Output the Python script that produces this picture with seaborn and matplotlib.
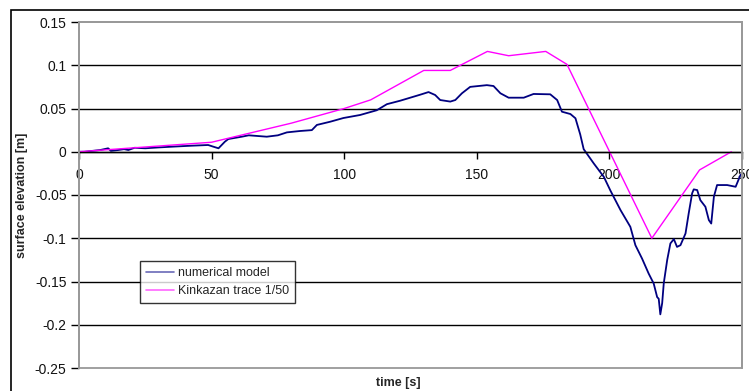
import matplotlib
matplotlib.use("Agg")
import matplotlib.pyplot as plt
import seaborn as sns
import pandas as pd
from matplotlib.patches import Rectangle
from matplotlib.lines import Line2D

# --- data ---
model_t = [0, 2, 5, 8, 11, 12, 14.8, 17, 18.6, 21, 25, 30, 36, 42.5, 48.7, 50.5, 52.6, 55, 56.3,
           61.4, 64, 70.8, 75, 78.4, 83.4, 87.8, 89.7, 94.7, 99.7, 106, 112.3, 116.1, 121.1, 128.7,
           131.8, 134.3, 136.2, 140, 141.9, 144.4, 147.5, 153.8, 156.3, 158.9, 162, 167.7, 171.4,
           177.7, 180.3, 182.1, 185.3, 187.2, 189, 190.3, 194.1, 197.9, 200.4, 204.2, 207.9, 209.8,
           212.3, 214.8, 216.7, 218, 218.6, 219.2, 219.9, 220.5, 221.8, 223, 224.3, 225.5, 226.8,
           228.7, 229.9, 231.2, 231.8, 233.1, 234.3, 236.2, 237.5, 238.4, 239.4, 240.6, 244.4,
           247.6, 249.4, 250]
model_eta = [0, 0, 0.001, 0.002, 0.004, 0.001, 0.002, 0.003, 0.002, 0.0046, 0.004, 0.005, 0.006,
             0.007, 0.0078, 0.006, 0.004, 0.0116, 0.0147, 0.0174, 0.019, 0.0174, 0.019, 0.0224,
             0.024, 0.025, 0.031, 0.0347, 0.039, 0.0425, 0.048, 0.055, 0.059, 0.066, 0.069, 0.0656,
             0.0598, 0.058, 0.0598, 0.0676, 0.075, 0.077, 0.076, 0.0676, 0.0625, 0.0625, 0.0668,
             0.0664, 0.0598, 0.0463, 0.0436, 0.0387, 0.02, 0.003, -0.0135, -0.029, -0.045, -0.0675,
             -0.0868, -0.108, -0.1234, -0.1408, -0.1523, -0.168, -0.17, -0.188, -0.175, -0.152,
             -0.125, -0.106, -0.101, -0.11, -0.108, -0.0945, -0.0713, -0.048, -0.0435, -0.0443,
             -0.056, -0.0636, -0.079, -0.083, -0.052, -0.0385, -0.0385, -0.0405, -0.027, -0.025]

trace_t = [0, 50, 80, 100, 110, 130, 140, 154, 162, 176, 184, 216, 234, 246]
trace_eta = [0, 0.011, 0.033, 0.05, 0.06, 0.094, 0.094, 0.116, 0.111, 0.116, 0.101, -0.1, -0.021, 0]

series_names = ["numerical model", "Kinkazan trace 1/50"]
series_colors = ["#000080", "#FF00FF"]

x_ticks = [0, 50, 100, 150, 200, 250]
y_ticks = [-0.25, -0.2, -0.15, -0.1, -0.05, 0, 0.05, 0.1, 0.15]
y_tick_labels = ["-0.25", "-0.2", "-0.15", "-0.1", "-0.05", "0", "0.05", "0.1", "0.15"]

df = pd.concat([
    pd.DataFrame({"t": model_t, "eta": model_eta, "series": series_names[0]}),
    pd.DataFrame({"t": trace_t, "eta": trace_eta, "series": series_names[1]}),
], ignore_index=True)

sns.set_style("white")
plt.rcParams["font.family"] = ["Liberation Sans", "DejaVu Sans"]

fig = plt.figure(figsize=(7.49, 3.91), dpi=100)
ax = fig.add_axes([79 / 749, 23 / 391, 663 / 749, 346 / 391])

sns.lineplot(data=df, x="t", y="eta", hue="series", palette=dict(zip(series_names, series_colors)),
             estimator=None, sort=False, ax=ax, linewidth=1.1, legend=False)
for ln, lw in zip(ax.lines, [1.3, 1.0]):
    ln.set_linewidth(lw)

ax.set_xlim(0, 250)
ax.set_ylim(-0.25, 0.15)
ax.set_xticks(x_ticks)
ax.set_xticklabels([str(v) for v in x_ticks])
ax.set_yticks(y_ticks)
ax.set_yticklabels(y_tick_labels)
ax.set_xlabel("")
ax.set_ylabel("")

for y in y_ticks[1:-1]:
    ax.axhline(y, color="black", lw=1.0, zorder=0.5)

ax.spines["bottom"].set_position(("data", 0))
ax.spines["bottom"].set_color("black")
ax.spines["bottom"].set_linewidth(1.0)
for s in ["top", "right", "left"]:
    ax.spines[s].set_color("#999999")
    ax.spines[s].set_linewidth(1.3)
ax.add_patch(Rectangle((0, 0), 1, 1, transform=ax.transAxes, fill=False,
                       edgecolor="#999999", lw=1.3, zorder=3, clip_on=False))

ax.tick_params(axis="y", direction="out", length=6, width=1, color="black",
               labelsize=10, pad=3, left=True)
ax.tick_params(axis="x", direction="out", length=5, width=1, color="black",
               labelsize=10, pad=7, bottom=True)
for lab in ax.get_xticklabels() + ax.get_yticklabels():
    lab.set_color("#111111")

# legend
handles = [Line2D([0], [0], color=c, lw=1.2) for c in ["#6a6ab8", "#ff66ff"]]
leg = ax.legend(handles, series_names, loc="lower left", bbox_to_anchor=(0.092, 0.188),
                frameon=True, fancybox=False, fontsize=9, handlelength=2.3, handletextpad=0.3,
                borderpad=0.45, labelspacing=0.5, borderaxespad=0)
leg.get_frame().set_edgecolor("black")
leg.get_frame().set_linewidth(1.0)

fig.text(22 / 749, 1 - 195 / 391, "surface elevation [m]", rotation=90, ha="center", va="center",
         fontsize=9, fontweight="bold")
fig.text(398 / 749, 1 - 383 / 391, "time [s]", ha="center", va="center",
         fontsize=9, fontweight="bold")

# outer chart frame
fig.add_artist(Rectangle((10.5 / 749, -0.2), 2, (1 - 9.5 / 391) + 0.2, transform=fig.transFigure,
                         fill=False, edgecolor="black", lw=1.2))

fig.savefig("out.png", dpi=100)
